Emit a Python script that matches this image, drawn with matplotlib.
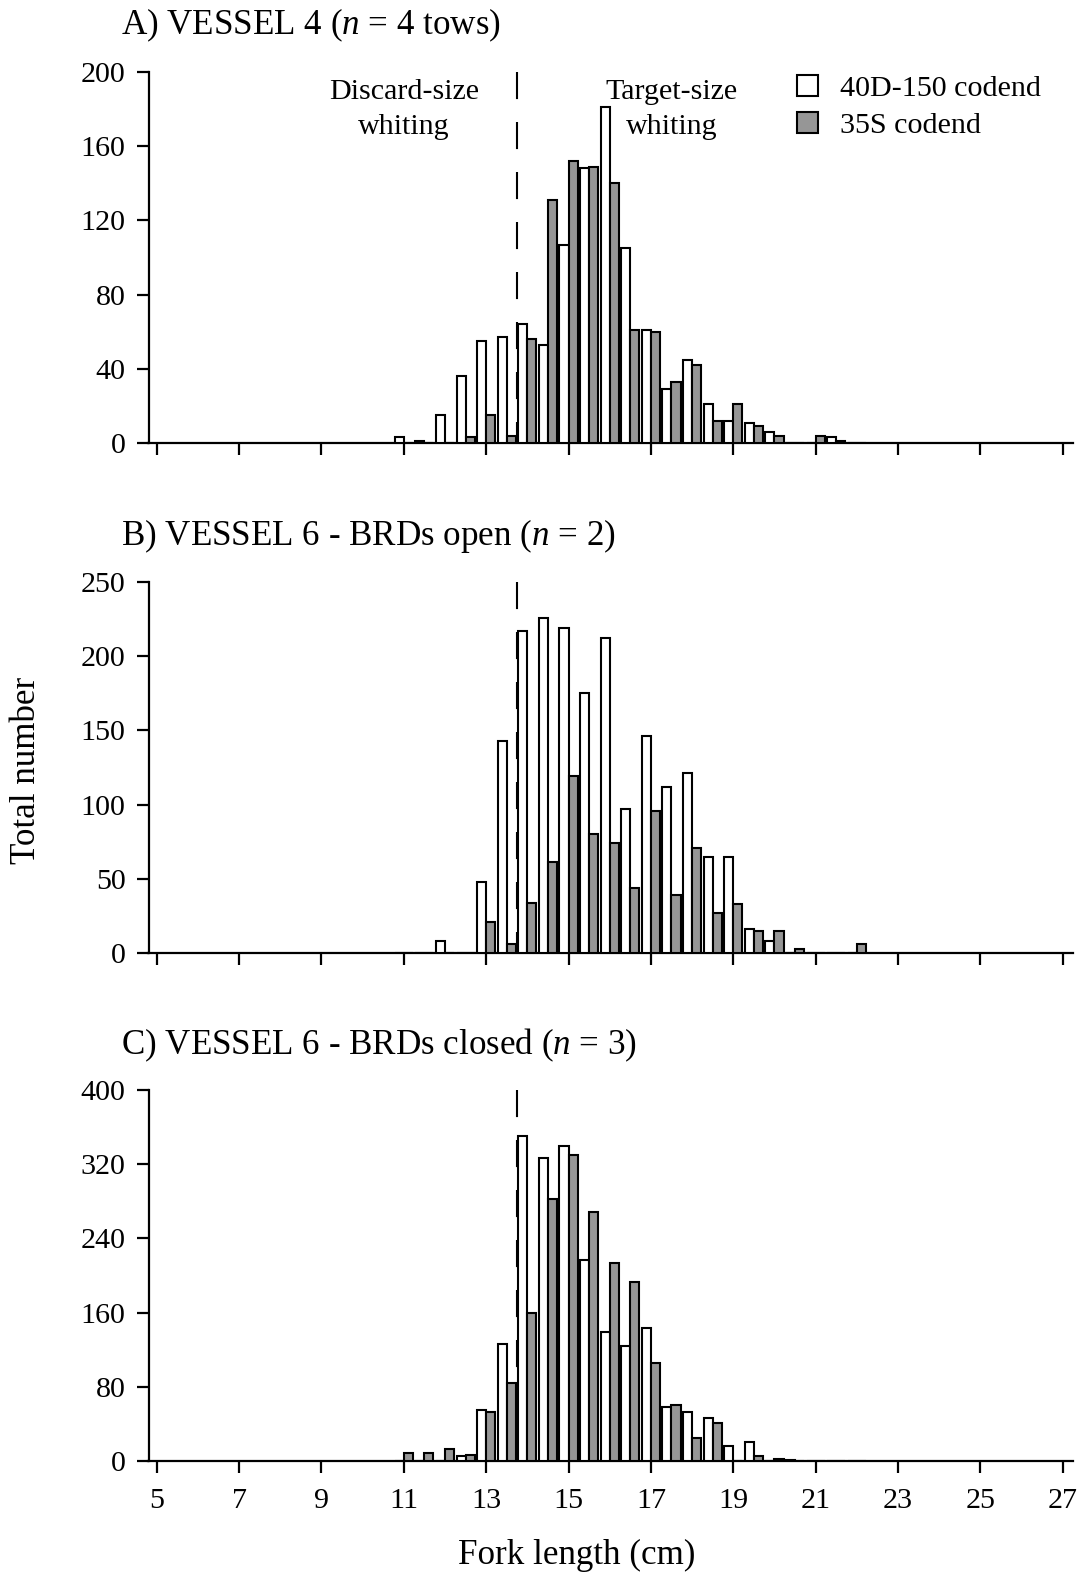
import matplotlib
matplotlib.use("Agg")
import matplotlib.pyplot as plt

plt.rcParams['font.family'] = ['Liberation Serif', 'DejaVu Serif']
plt.rcParams['mathtext.fontset'] = 'custom'
plt.rcParams['mathtext.rm'] = 'Liberation Serif'
plt.rcParams['mathtext.it'] = 'Liberation Serif:italic'

# fork length bins (cm), 0.5 cm classes
bins = [11.0, 11.5, 12.0, 12.5, 13.0, 13.5, 14.0, 14.5, 15.0, 15.5, 16.0, 16.5,
        17.0, 17.5, 18.0, 18.5, 19.0, 19.5, 20.0, 20.5, 21.0, 21.5, 22.0]

# A) vessel 4
a_40d = [3, 1, 15, 36, 55, 57, 64, 53, 107, 148, 181, 105,
         61, 29, 45, 21, 12, 11, 6, 0, 0, 3, 0]
a_35s = [0, 0, 0, 3, 15, 4, 56, 131, 152, 149, 140, 61,
         60, 33, 42, 12, 21, 9, 4, 0, 4, 1, 0]

# B) vessel 6, BRDs open
b_40d = [0, 0, 8, 0, 48, 143, 217, 226, 219, 175, 212, 97,
         146, 112, 121, 65, 65, 16, 8, 0, 0, 0, 0]
b_35s = [0, 0, 0, 0, 21, 6, 34, 61, 119, 80, 74, 44,
         96, 39, 71, 27, 33, 15, 15, 3, 0, 0, 6]

# C) vessel 6, BRDs closed
c_40d = [0, 0, 0, 5, 55, 126, 350, 327, 340, 217, 139, 124,
         143, 58, 53, 46, 16, 20, 0, 1, 0, 0, 0]
c_35s = [9, 9, 13, 6, 53, 84, 160, 283, 330, 269, 214, 193,
         106, 60, 25, 41, 0, 5, 2, 0, 0, 0, 0]

titles = ["A) VESSEL 4 ($n$ = 4 tows)",
          "B) VESSEL 6 - BRDs open ($n$ = 2)",
          "C) VESSEL 6 - BRDs closed ($n$ = 3)"]
ymax = [200, 250, 400]
ystep = [40, 50, 80]
mls = 13.75
xticks = [5, 7, 9, 11, 13, 15, 17, 19, 21, 23, 25, 27]

W, H = 1080, 1573
fig = plt.figure(figsize=(W / 100, H / 100), dpi=100)

left = 148.5 / W
width = (1073 - 148.5) / W
tops = [72, 582, 1090]
bots = [443, 953, 1461]
title_base = [34, 545, 1054]

data = [(a_40d, a_35s), (b_40d, b_35s), (c_40d, c_35s)]
bw = 0.22
grey = '#969696'
lab_fs = 21.6
big_fs = 25.2

for i in range(3):
    ax = fig.add_axes([left, 1 - bots[i] / H, width, (bots[i] - tops[i]) / H])
    w40, w35 = data[i]
    lft = [b - bw for b in bins]
    h1 = ax.bar(lft, w40, width=bw, align='edge', color='white',
                edgecolor='black', linewidth=1.5, zorder=3)
    h2 = ax.bar(bins, w35, width=bw, align='edge', color=grey,
                edgecolor='black', linewidth=1.5, zorder=3)
    ax.plot([mls, mls], [ymax[i], 0], color='black', lw=1.5,
            linestyle=(0, (13, 11)), zorder=4)

    ax.set_xlim(4.8, 27.25)
    ax.set_ylim(0, ymax[i])
    ax.set_yticks(range(0, ymax[i] + 1, ystep[i]))
    ax.set_xticks(xticks)
    for s in ['top', 'right']:
        ax.spines[s].set_visible(False)
    for s in ['left', 'bottom']:
        ax.spines[s].set_linewidth(1.6)
    ax.tick_params(direction='out', length=8.5, width=1.6, labelsize=lab_fs)
    ax.tick_params(axis='y', pad=8)
    ax.tick_params(axis='x', pad=11)
    if i < 2:
        ax.tick_params(axis='x', labelbottom=False)

    fig.text(121 / W, 1 - title_base[i] / H, titles[i], fontsize=big_fs,
             ha='left', va='baseline')

    if i == 0:
        ax.text(11.0, 180, "Discard-size\nwhiting", fontsize=lab_fs,
                ha='center', va='center', linespacing=1.45)
        ax.text(17.5, 180, "Target-size\nwhiting", fontsize=lab_fs,
                ha='center', va='center', linespacing=1.45)
        ax.legend([h1, h2], ["40D-150 codend", "35S codend"],
                  loc='upper left', bbox_to_anchor=(797 / W, 1 - 75 / H),
                  bbox_transform=fig.transFigure, frameon=False,
                  fontsize=lab_fs, handlelength=0.7, handleheight=0.72,
                  handletextpad=0.72, labelspacing=0.33, borderaxespad=0,
                  borderpad=0)

fig.text(27 / W, 1 - 770 / H, "Total number", rotation=90, fontsize=big_fs,
         ha='center', va='center')
fig.text(577 / W, 1 - 1555 / H, "Fork length (cm)", fontsize=big_fs,
         ha='center', va='center')

fig.savefig("out.png", dpi=100)
